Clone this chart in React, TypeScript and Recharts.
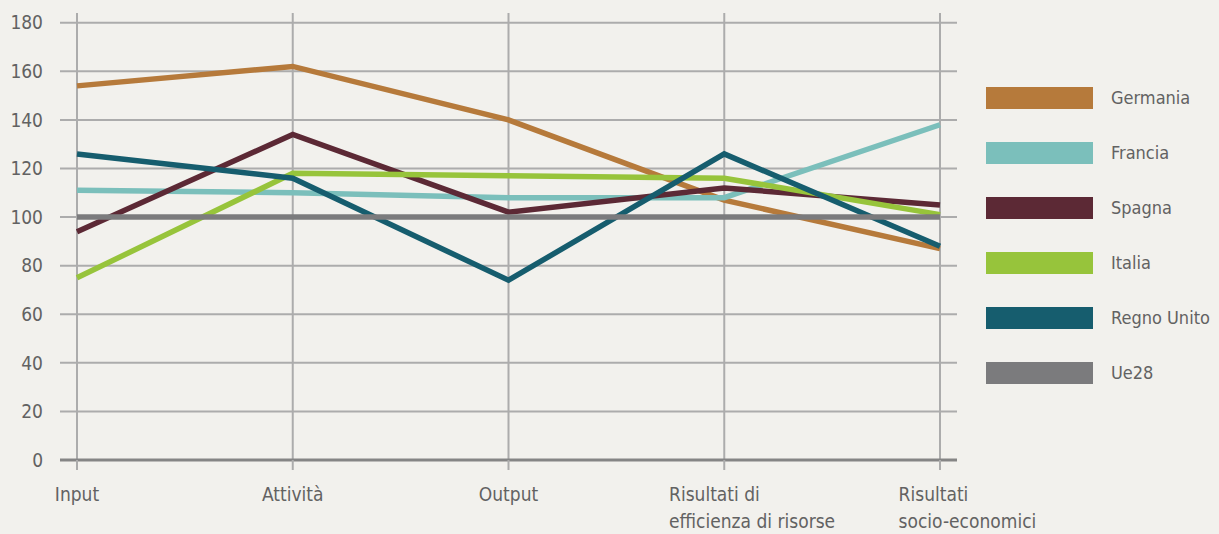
import { Line, LineChart, ReferenceLine, XAxis, YAxis } from 'recharts';

const categories = ['Input', 'Attività', 'Output', 'Risultati di\nefficienza di risorse', 'Risultati\nsocio-economici'];

const germania = [154, 162, 140, 107, 87];
const francia = [111, 110, 108, 108, 138];
const spagna = [94, 134, 102, 112, 105];
const italia = [75, 118, 117, 116, 101];
const regnoUnito = [126, 116, 74, 126, 88];
const ue28 = [100, 100, 100, 100, 100];

const yTicks = [0, 20, 40, 60, 80, 100, 120, 140, 160, 180];

const series = [
  { key: 'germania', name: 'Germania', values: germania, color: '#b67a3b' },
  { key: 'francia', name: 'Francia', values: francia, color: '#7bbfbb' },
  { key: 'spagna', name: 'Spagna', values: spagna, color: '#5c2935' },
  { key: 'italia', name: 'Italia', values: italia, color: '#97c43b' },
  { key: 'regnoUnito', name: 'Regno Unito', values: regnoUnito, color: '#165d6e' },
  { key: 'ue28', name: 'Ue28', values: ue28, color: '#7b7b7d' },
];

const data = categories.map((cat, i) => {
  const row: Record<string, string | number> = { cat };
  series.forEach((s) => {
    row[s.key] = s.values[i];
  });
  return row;
});

const FONT = '"DejaVu Sans Condensed", "Liberation Sans Narrow", sans-serif';
const TEXT = '#626262';
const GRID = '#acacac';
const BG = '#f2f1ed';

function CategoryTick({ x, y, payload }: any) {
  const lines = String(payload.value).split('\n');
  if (lines.length === 1) {
    return (
      <text x={x} y={y + 29} textAnchor="middle" fill={TEXT} fontSize={19} fontFamily={FONT}>
        {lines[0]}
      </text>
    );
  }
  // multi-line labels: left aligned, first line roughly centred on the tick
  const shift = lines[0].length * 4.6;
  return (
    <text x={x - shift} y={y + 29} textAnchor="start" fill={TEXT} fontSize={19} fontFamily={FONT}>
      {lines.map((l, i) => (
        <tspan key={i} x={x - shift} dy={i === 0 ? 0 : 27}>
          {l}
        </tspan>
      ))}
    </text>
  );
}

export default function App() {
  return (
    <div style={{ position: 'absolute', left: 0, top: 0, width: 1219, height: 534, background: BG }}>
      <LineChart width={1219} height={534} data={data} margin={{ top: 13, right: 262, bottom: 0, left: 0 }}>
        {yTicks.slice(1).map((t) => (
          <ReferenceLine key={'h' + t} y={t} stroke={GRID} strokeWidth={2} />
        ))}
        {categories.map((c) => (
          <ReferenceLine key={'v' + c} x={c} stroke={GRID} strokeWidth={2} />
        ))}
        <XAxis
          dataKey="cat"
          interval={0}
          height={74}
          padding={{ left: 17, right: 17 }}
          axisLine={{ stroke: '#858585', strokeWidth: 3 }}
          tickLine={{ stroke: GRID, strokeWidth: 2 }}
          tickSize={10}
          tick={<CategoryTick />}
        />
        <YAxis
          domain={[0, 184]}
          ticks={yTicks}
          width={60}
          axisLine={false}
          tickLine={false}
          tickSize={0}
          tickMargin={17}
          tick={{ fill: TEXT, fontSize: 19, fontFamily: FONT }}
        />
        {series.map((s) => (
          <Line
            key={s.key}
            dataKey={s.key}
            name={s.name}
            stroke={s.color}
            strokeWidth={5.5}
            dot={false}
            activeDot={false}
            isAnimationActive={false}
          />
        ))}
      </LineChart>
      <div style={{ position: 'absolute', left: 986, top: 70, fontFamily: FONT, fontSize: 18, color: TEXT }}>
        {series.map((s) => (
          <div key={s.key} style={{ display: 'flex', alignItems: 'center', height: 55 }}>
            <div style={{ width: 107, height: 22, background: s.color, marginRight: 18 }} />
            <span>{s.name}</span>
          </div>
        ))}
      </div>
    </div>
  );
}
